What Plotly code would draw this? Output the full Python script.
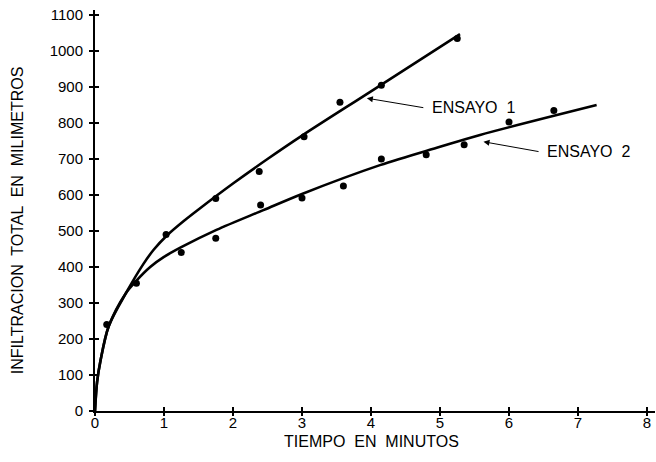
import plotly.graph_objects as go

# Measured points, test 1 and test 2 (time in minutes, infiltration in mm)
t1_obs = [0.17, 1.03, 1.75, 2.38, 3.03, 3.55, 4.15, 5.25]
f1_obs = [240, 490, 590, 665, 762, 858, 905, 1035]
t2_obs = [0.60, 1.25, 1.75, 2.40, 3.00, 3.60, 4.15, 4.80, 5.35, 6.00, 6.65]
f2_obs = [355, 440, 480, 572, 592, 625, 700, 712, 740, 803, 835]

# Fitted curves
t1_fit = [0, 0.03, 0.08, 0.20, 0.45, 0.70, 0.85, 1.05, 1.30, 1.50, 2.00, 2.50, 3.00, 4.00, 5.29]
f1_fit = [0, 80, 140, 236, 328, 408, 448, 489, 530, 560, 632, 700, 765, 888, 1047]
t2_fit = [0, 0.03, 0.08, 0.20, 0.45, 0.60, 0.80, 1.00, 1.25, 1.76, 2.44, 3.00, 4.13, 5.00, 5.58, 7.27]
f2_fit = [0, 80, 140, 236, 328, 362, 400, 428, 455, 503, 558, 603, 683, 734, 767, 850]

x_ticks = [0, 1, 2, 3, 4, 5, 6, 7, 8]
y_ticks = [0, 100, 200, 300, 400, 500, 600, 700, 800, 900, 1000, 1100]

FONT = "Liberation Sans"
BLACK = "#000000"
X_RANGE = [0, 8.116]
Y_RANGE = [0, 1114]

fig = go.Figure()
for tx, fy in ((t1_fit, f1_fit), (t2_fit, f2_fit)):
    fig.add_trace(go.Scatter(x=tx, y=fy, mode="lines",
                             line=dict(color=BLACK, width=2.6, shape="spline", smoothing=0.9),
                             hoverinfo="skip", showlegend=False))
for tx, fy in ((t1_obs, f1_obs), (t2_obs, f2_obs)):
    fig.add_trace(go.Scatter(x=tx, y=fy, mode="markers",
                             marker=dict(color=BLACK, size=7),
                             showlegend=False))

tick_font = dict(family=FONT, size=15, color=BLACK)
bare = dict(showgrid=False, zeroline=False, ticklen=4, tickwidth=1.5, tickcolor=BLACK)
fig.update_layout(
    width=656, height=462,
    margin=dict(l=95, r=1, t=10, b=51),
    paper_bgcolor="white", plot_bgcolor="white",
    # labelled axes; the second pair adds the other half of each crossing tick
    xaxis=dict(range=X_RANGE, tickvals=x_ticks, showline=True, linecolor=BLACK,
               linewidth=2, ticks="inside", tickfont=tick_font,
               ticklabelstandoff=-3, **bare),
    yaxis=dict(range=Y_RANGE, tickvals=y_ticks, showline=True, linecolor=BLACK,
               linewidth=2, ticks="outside", tickfont=tick_font,
               ticklabelstandoff=3, **bare),
    xaxis2=dict(overlaying="x", matches="x", range=X_RANGE, tickvals=x_ticks,
                showticklabels=False, ticks="outside", **bare),
    yaxis2=dict(overlaying="y", matches="y", range=Y_RANGE, tickvals=y_ticks,
                showticklabels=False, ticks="inside", **bare),
)
fig.add_trace(go.Scatter(x=[None], y=[None], xaxis="x2", yaxis="y2",
                         showlegend=False, hoverinfo="skip"))

label_font = dict(family=FONT, size=16, color=BLACK)
fig.add_annotation(x=0.494, y=-0.075, xref="paper", yref="paper",
                   text="TIEMPO  EN  MINUTOS", showarrow=False,
                   xanchor="center", yanchor="middle", font=label_font)
fig.add_annotation(x=-0.138, y=0.475, xref="paper", yref="paper",
                   text="INFILTRACION  TOTAL  EN  MILIMETROS", showarrow=False,
                   textangle=-90, xanchor="center", yanchor="middle", font=label_font)

# Series labels with pointer arrows
series_labels = [("ENSAYO  1", 3.94, 869, 4.78, 842, 4.86),
                 ("ENSAYO  2", 5.63, 748, 6.45, 720, 6.52)]
for text, hx, hy, tx, ty, lx in series_labels:
    fig.add_annotation(x=hx, y=hy, ax=tx, ay=ty, xref="x", yref="y",
                       axref="x", ayref="y", text="", showarrow=True,
                       arrowhead=2, arrowsize=1.2, arrowwidth=1, arrowcolor=BLACK)
    fig.add_annotation(x=lx, y=ty, xref="x", yref="y", text=text,
                       showarrow=False, xanchor="left", yanchor="middle",
                       font=label_font)

fig.write_html("out.html")
